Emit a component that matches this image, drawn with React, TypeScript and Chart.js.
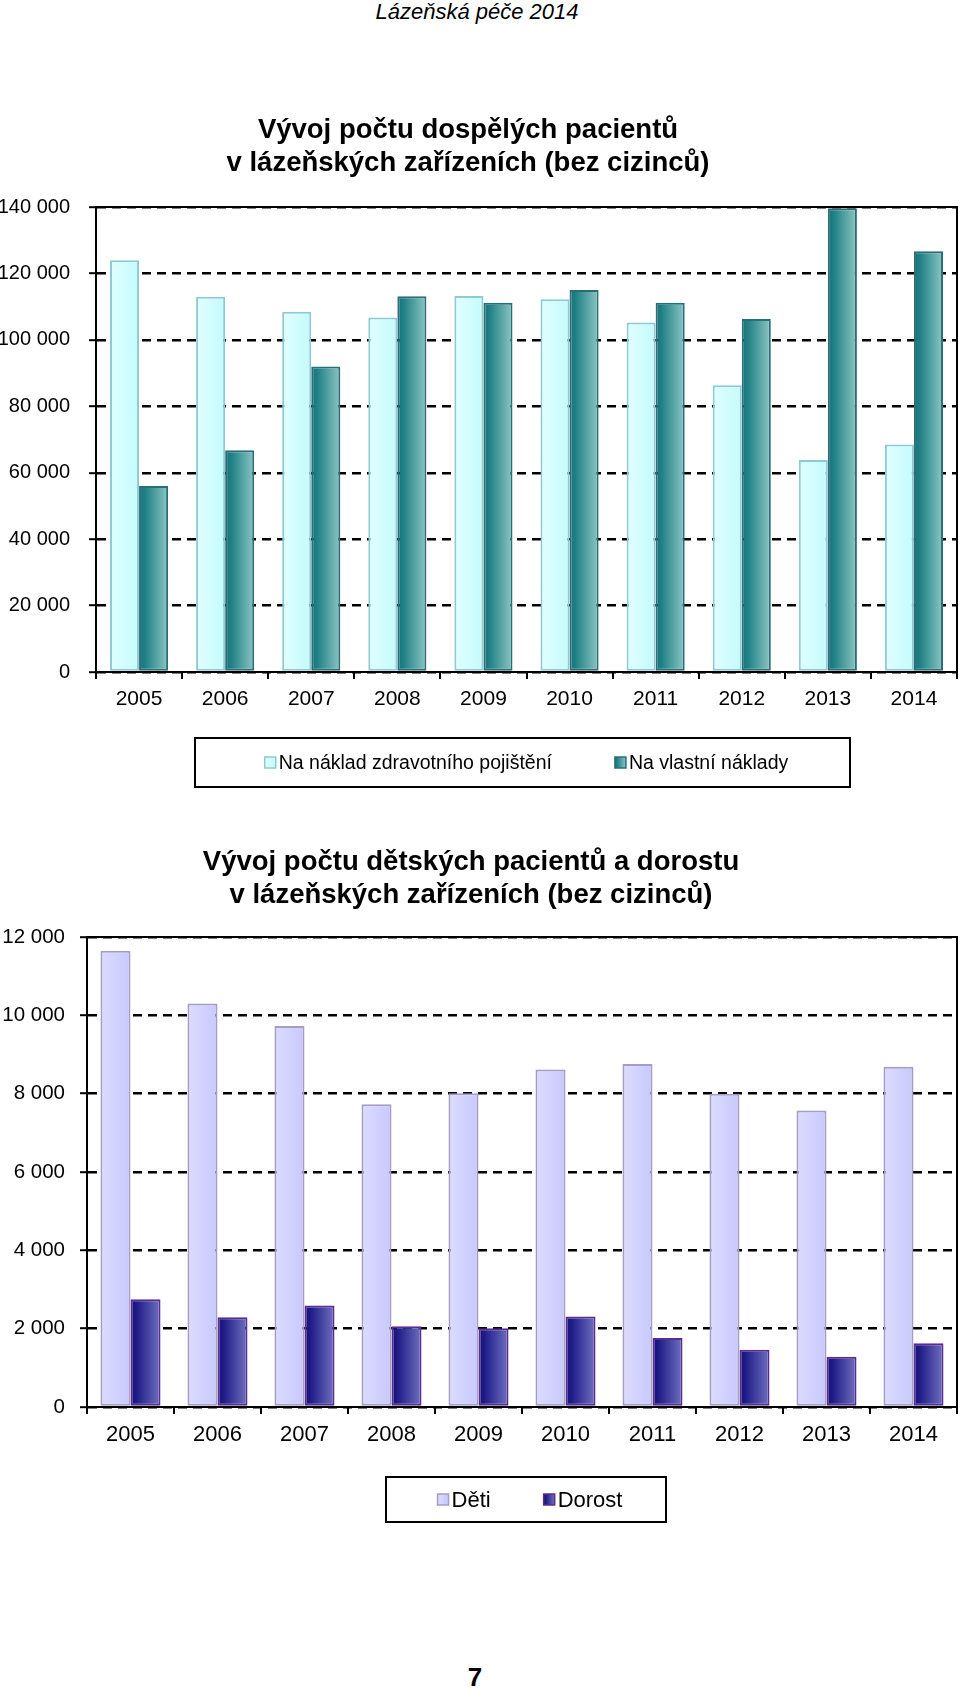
import React, { useEffect, useRef } from "react";
import { Chart, registerables } from "chart.js";

Chart.register(...registerables);

// ---------- data ----------
const YEARS = ["2005", "2006", "2007", "2008", "2009", "2010", "2011", "2012", "2013", "2014"];

const ADULT_INSURED = [124000, 113000, 108500, 106700, 113200, 112200, 105200, 86300, 63800, 68500];
const ADULT_SELF = [56000, 66800, 92000, 113100, 111200, 115000, 111200, 106300, 139600, 126700];

const CHILDREN = [11650, 10300, 9730, 7730, 8010, 8620, 8760, 8000, 7570, 8690];
const YOUTH = [2750, 2290, 2590, 2060, 2010, 2310, 1760, 1460, 1280, 1630];

const ADULT_Y_MAX = 140000;
const ADULT_Y_STEP = 20000;
const CHILD_Y_MAX = 12000;
const CHILD_Y_STEP = 2000;

const ADULT_SERIES = ["Na náklad zdravotního pojištění", "Na vlastní náklady"];
const CHILD_SERIES = ["Děti", "Dorost"];

const ADULT_TITLE = ["Vývoj počtu dospělých pacientů", "v lázeňských zařízeních (bez cizinců)"];
const CHILD_TITLE = ["Vývoj počtu dětských pacientů a dorostu", "v lázeňských zařízeních (bez cizinců)"];

const PAGE_HEADER = "Lázeňská péče 2014";
const PAGE_NUMBER = "7";

// ---------- styling ----------
const FONT = '"Liberation Sans", Arial, Helvetica, sans-serif';

type Stop = [number, string];

const fmt = (v: number) => String(v).replace(/\B(?=(\d{3})+(?!\d))/g, " ");

function gradientFill(stops: Stop[], catPct: number, barPct: number) {
  return (c: any) => {
    const chart = c.chart;
    const xs = chart.scales && chart.scales.x;
    if (!xs || c.type !== "data" || !xs.width) return stops[stops.length - 1][1];
    const n = chart.data.labels.length;
    const nds = chart.data.datasets.length;
    const size = (xs.width / n) * catPct;
    const chunk = size / nds;
    const center = xs.getPixelForValue(c.dataIndex) - size / 2 + chunk * c.datasetIndex + chunk / 2;
    const w = chunk * barPct;
    const g = chart.ctx.createLinearGradient(center - w / 2, 0, center + w / 2, 0);
    stops.forEach(([o, col]) => g.addColorStop(o, col));
    return g;
  };
}

type Series = { label: string; data: number[]; stops: Stop[]; border: string; borderWidth: number };

type Spec = {
  series: Series[];
  yMax: number;
  yStep: number;
  catPct: number;
  padTop: number;
  yWidth: number;
  xHeight: number;
  yPad: number;
  yFont: number;
  xFont: number;
  title: string[];
  titleX: number;
  titleBase: number[];
  titleSize: number;
  legend: { left: number; top: number; width: number; height: number; gap: number; dx: number; font: number; sw: number; swGap: number };
  height: number;
  top: number;
};

function decorPlugin(spec: Spec) {
  return {
    id: "decor",
    afterDatasetsDraw(chart: any) {
      const { ctx, chartArea: a } = chart;
      ctx.save();
      ctx.strokeStyle = "#000";
      ctx.lineWidth = 2;
      ctx.strokeRect(a.left, a.top, a.right - a.left, a.bottom - a.top);
      ctx.restore();
    },
    afterDraw(chart: any) {
      const ctx = chart.ctx;
      ctx.save();
      // titles
      ctx.fillStyle = "#000";
      ctx.textAlign = "center";
      ctx.textBaseline = "alphabetic";
      ctx.font = `bold ${spec.titleSize}px ${FONT}`;
      spec.title.forEach((t, i) => ctx.fillText(t, spec.titleX, spec.titleBase[i]));

      // legend
      const L = spec.legend;
      ctx.strokeStyle = "#000";
      ctx.lineWidth = 2;
      ctx.strokeRect(L.left, L.top, L.width, L.height);
      ctx.font = `${L.font}px ${FONT}`;
      const items = spec.series;
      const widths = items.map((s) => L.sw + L.swGap + ctx.measureText(s.label).width);
      const total = widths.reduce((p, w) => p + w, 0) + L.gap * (items.length - 1);
      let x = L.left + (L.width - total) / 2 + L.dx;
      const cy = L.top + L.height / 2;
      items.forEach((s, i) => {
        const g = ctx.createLinearGradient(x, 0, x + L.sw, 0);
        s.stops.forEach(([o, col]) => g.addColorStop(o, col));
        ctx.fillStyle = g;
        ctx.fillRect(x, cy - L.sw / 2, L.sw, L.sw);
        ctx.strokeStyle = s.border;
        ctx.lineWidth = 1.5;
        ctx.strokeRect(x, cy - L.sw / 2, L.sw, L.sw);
        ctx.fillStyle = "#000";
        ctx.textAlign = "left";
        ctx.textBaseline = "middle";
        ctx.fillText(s.label, x + L.sw + L.swGap, cy + 1);
        x += widths[i] + L.gap;
      });
      ctx.restore();
    },
  };
}

function buildConfig(spec: Spec): any {
  const barPct = 1;
  return {
    type: "bar",
    data: {
      labels: YEARS,
      datasets: spec.series.map((s) => ({
        label: s.label,
        data: s.data,
        backgroundColor: gradientFill(s.stops, spec.catPct, barPct),
        borderColor: s.border,
        borderWidth: s.borderWidth,
        borderSkipped: false,
        categoryPercentage: spec.catPct,
        barPercentage: barPct,
      })),
    },
    options: {
      responsive: false,
      animation: false,
      devicePixelRatio: 1,
      events: [],
      layout: { padding: { top: spec.padTop, left: 0, right: 3, bottom: 0 } },
      plugins: {
        legend: { display: false },
        title: { display: false },
        tooltip: { enabled: false },
      },
      scales: {
        x: {
          grid: {
            display: true,
            drawOnChartArea: false,
            drawTicks: true,
            tickLength: 7,
            color: "#000",
            lineWidth: 2,
          },
          border: { display: true, color: "#000", width: 2 },
          ticks: {
            color: "#000",
            font: { family: FONT, size: spec.xFont },
            padding: 8,
            maxRotation: 0,
            autoSkip: false,
          },
          afterFit: (s: any) => {
            s.height = spec.xHeight;
          },
        },
        y: {
          min: 0,
          max: spec.yMax,
          ticks: {
            stepSize: spec.yStep,
            color: "#000",
            font: { family: FONT, size: spec.yFont },
            padding: spec.yPad,
            callback: (v: number) => fmt(v),
          },
          grid: {
            color: "#000",
            lineWidth: 2.4,
            tickLength: 7,
            tickColor: "#000",
            tickWidth: 2,
            tickBorderDash: [],
          },
          border: { display: true, color: "#000", width: 2, dash: [9, 6] },
          afterFit: (s: any) => {
            s.width = spec.yWidth;
          },
        },
      },
    },
    plugins: [decorPlugin(spec)],
  };
}

const ADULT_SPEC: Spec = {
  series: [
    { label: ADULT_SERIES[0], data: ADULT_INSURED, stops: [[0, "#E0FFFF"], [1, "#C4FBFC"]], border: "#8FC9D4", borderWidth: 2 },
    { label: ADULT_SERIES[1], data: ADULT_SELF, stops: [[0, "#18727A"], [0.2, "#1F8084"], [1, "#8CC6C4"]], border: "#2B6E78", borderWidth: 2 },
  ],
  yMax: ADULT_Y_MAX,
  yStep: ADULT_Y_STEP,
  catPct: 0.675,
  padTop: 117,
  yWidth: 96,
  xHeight: 128,
  yPad: 19,
  yFont: 20,
  xFont: 21,
  title: ADULT_TITLE,
  titleX: 468,
  titleBase: [47.5, 81.4],
  titleSize: 27.5,
  legend: { left: 195, top: 648, width: 655, height: 49, gap: 63, dx: 4, font: 19.5, sw: 11, swGap: 3 },
  height: 710,
  top: 90,
};

const CHILD_SPEC: Spec = {
  series: [
    { label: CHILD_SERIES[0], data: CHILDREN, stops: [[0, "#DCDCFF"], [1, "#C8C8FD"]], border: "#A59DC6", borderWidth: 2 },
    { label: CHILD_SERIES[1], data: YOUTH, stops: [[0, "#160F78"], [0.18, "#1D1A86"], [1, "#7070C0"]], border: "#5A2C90", borderWidth: 2 },
  ],
  yMax: CHILD_Y_MAX,
  yStep: CHILD_Y_STEP,
  catPct: 0.69,
  padTop: 137,
  yWidth: 87,
  xHeight: 133,
  yPad: 15,
  yFont: 20.5,
  xFont: 22,
  title: CHILD_TITLE,
  titleX: 471,
  titleBase: [69.7, 103],
  titleSize: 27.5,
  legend: { left: 386, top: 677, width: 280, height: 45, gap: 53, dx: 4, font: 22, sw: 11, swGap: 3 },
  height: 740,
  top: 800,
};

function BarChart({ spec }: { spec: Spec }) {
  const ref = useRef<HTMLCanvasElement>(null);
  useEffect(() => {
    if (!ref.current) return;
    const chart = new Chart(ref.current, buildConfig(spec));
    return () => chart.destroy();
  }, [spec]);
  return (
    <canvas
      ref={ref}
      width={960}
      height={spec.height}
      style={{ position: "absolute", left: 0, top: spec.top, width: 960, height: spec.height, display: "block" }}
    />
  );
}

export default function App() {
  return (
    <div
      style={{
        position: "absolute",
        left: 0,
        top: 0,
        width: 960,
        height: 1689,
        overflow: "hidden",
        background: "#fff",
        fontFamily: FONT,
      }}
    >
      <div
        style={{
          position: "absolute",
          left: 0,
          top: 0,
          width: 954,
          height: 24,
          lineHeight: "24px",
          textAlign: "center",
          fontStyle: "italic",
          fontSize: 22,
          color: "#000",
        }}
      >
        {PAGE_HEADER}
      </div>
      <BarChart spec={ADULT_SPEC} />
      <BarChart spec={CHILD_SPEC} />
      <div
        style={{
          position: "absolute",
          left: 0,
          top: 1662,
          width: 950,
          height: 30,
          lineHeight: "30px",
          textAlign: "center",
          fontWeight: "bold",
          fontSize: 26,
          color: "#000",
        }}
      >
        {PAGE_NUMBER}
      </div>
    </div>
  );
}
